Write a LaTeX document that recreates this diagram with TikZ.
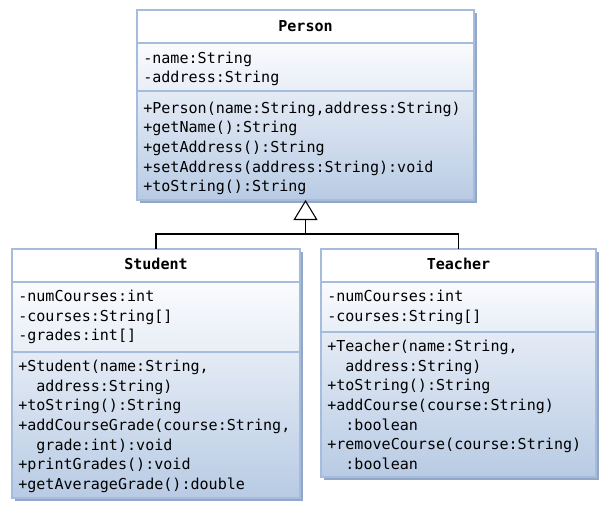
\documentclass[tikz,border=0pt]{standalone}
\usepackage{fontspec}
\setmonofont{DejaVu Sans Mono}
\usetikzlibrary{arrows.meta}
\definecolor{bordc}{HTML}{A6BCDD}
\definecolor{shadc}{HTML}{93A8C8}
\definecolor{attrtop}{HTML}{FAFBFD}
\definecolor{attrbot}{HTML}{E8EEF7}
\definecolor{methtop}{HTML}{E4EBF5}
\definecolor{methbot}{HTML}{B8CBE4}
\tikzset{
  txt/.style={anchor=base west, inner sep=0pt, font=\ttfamily\fontsize{11.3}{14}\selectfont},
  ttl/.style={anchor=base, inner sep=0pt, font=\ttfamily\bfseries\fontsize{11.3}{14}\selectfont},
  frame/.style={draw=bordc, line width=1.1pt, inner sep=0pt, outer sep=0pt, anchor=north west},
  sep/.style={draw=bordc, line width=1.1pt},
  conn/.style={draw=black, line width=0.8pt},
}
\newcommand\ind{\phantom{++}}
\begin{document}
\begin{tikzpicture}[x=0.75pt,y=-0.75pt]
\useasboundingbox (0,0) rectangle (609,512);
% ---------- Person ----------
\fill[shadc] (140,13) rectangle (477,203);
\fill[white] (137,10) rectangle (474,43);
\shade[top color=attrtop, bottom color=attrbot] (137,43) rectangle (474,91);
\shade[top color=methtop, bottom color=methbot] (137,91) rectangle (474,200);
\draw[sep] (137,43) -- (474,43);
\draw[sep] (137,91) -- (474,91);
\node[frame, minimum width=337*0.75pt, minimum height=190*0.75pt] (person) at (137,10) {};
\node[ttl] (pt) at (305.5,31) {Person};
\node[txt] (pa1) at (143,63) {-name:String};
\node[txt] (pa2) at (143,82.6) {-address:String};
\node[txt] (pm1) at (143,113.3) {+Person(name:String,address:String)};
\node[txt] (pm2) at (143,132.9) {+getName():String};
\node[txt] (pm3) at (143,152.5) {+getAddress():String};
\node[txt] (pm4) at (143,172.1) {+setAddress(address:String):void};
\node[txt] (pm5) at (143,191.7) {+toString():String};
% ---------- Student ----------
\fill[shadc] (15,252) rectangle (303,501);
\fill[white] (12,249) rectangle (300,282);
\shade[top color=attrtop, bottom color=attrbot] (12,282) rectangle (300,352);
\shade[top color=methtop, bottom color=methbot] (12,352) rectangle (300,498);
\draw[sep] (12,282) -- (300,282);
\draw[sep] (12,352) -- (300,352);
\node[frame, minimum width=288*0.75pt, minimum height=249*0.75pt] (student) at (12,249) {};
\node[ttl] (st) at (156,269.5) {Student};
\node[txt] (sa1) at (18,301.7) {-numCourses:int};
\node[txt] (sa2) at (18,321.3) {-courses:String[]};
\node[txt] (sa3) at (18,340.9) {-grades:int[]};
\node[txt] (sm1) at (18,371.7) {+Student(name:String,};
\node[txt] (sm2) at (18,391.3) {\ind address:String)};
\node[txt] (sm3) at (18,410.9) {+toString():String};
\node[txt] (sm4) at (18,430.5) {+addCourseGrade(course:String,};
\node[txt] (sm5) at (18,450.1) {\ind grade:int):void};
\node[txt] (sm6) at (18,469.7) {+printGrades():void};
\node[txt] (sm7) at (18,489.3) {+getAverageGrade():double};
% ---------- Teacher ----------
\fill[shadc] (324,252) rectangle (599,480);
\fill[white] (321,249) rectangle (596,282);
\shade[top color=attrtop, bottom color=attrbot] (321,282) rectangle (596,332);
\shade[top color=methtop, bottom color=methbot] (321,332) rectangle (596,477);
\draw[sep] (321,282) -- (596,282);
\draw[sep] (321,332) -- (596,332);
\node[frame, minimum width=275*0.75pt, minimum height=228*0.75pt] (teacher) at (321,249) {};
\node[ttl] (tt) at (458.5,269.5) {Teacher};
\node[txt] (ta1) at (327,301.7) {-numCourses:int};
\node[txt] (ta2) at (327,321.3) {-courses:String[]};
\node[txt] (tm1) at (327,351.7) {+Teacher(name:String,};
\node[txt] (tm2) at (327,371.3) {\ind address:String)};
\node[txt] (tm3) at (327,390.9) {+toString():String};
\node[txt] (tm4) at (327,410.5) {+addCourse(course:String)};
\node[txt] (tm5) at (327,430.1) {\ind :boolean};
\node[txt] (tm6) at (327,449.7) {+removeCourse(course:String)};
\node[txt] (tm7) at (327,469.3) {\ind :boolean};
% ---------- generalization ----------
\coordinate (joint) at (305.5,234);
\draw[conn] (student.north) |- (joint) -| (teacher.north);
\draw[conn, -{Triangle[open, length=15pt, width=18pt, line width=0.8pt]}] (joint) -- (person.south);
\end{tikzpicture}
\end{document}
